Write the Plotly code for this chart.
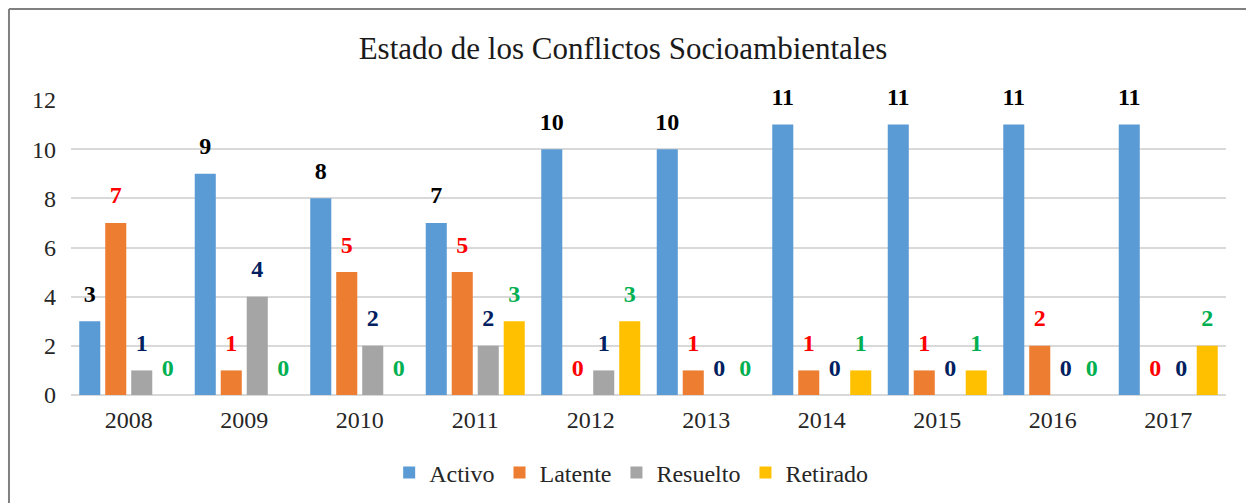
import plotly.graph_objects as go

years = ["2008", "2009", "2010", "2011", "2012", "2013", "2014", "2015", "2016", "2017"]
activo = [3, 9, 8, 7, 10, 10, 11, 11, 11, 11]
latente = [7, 1, 5, 5, 0, 1, 1, 1, 2, 0]
resuelto = [1, 4, 2, 2, 1, 0, 0, 0, 0, 0]
retirado = [0, 0, 0, 3, 3, 0, 1, 1, 0, 2]

series_names = ["Activo", "Latente", "Resuelto", "Retirado"]
series_values = [activo, latente, resuelto, retirado]
bar_colors = ["#5B9BD5", "#ED7D31", "#A5A5A5", "#FFC000"]
label_colors = ["#000000", "#FF0000", "#002060", "#00B050"]

FONT = "Liberation Serif"

fig = go.Figure()
for name, vals, col in zip(series_names, series_values, bar_colors):
    fig.add_bar(x=years, y=vals, name=name, marker=dict(color=col, line=dict(width=0)),
                hoverinfo="skip")

for name, vals, lc in zip(series_names, series_values, label_colors):
    fig.add_scatter(x=years, y=vals, mode="markers+text", text=[str(v) for v in vals],
                    textposition="top center", marker=dict(size=20, opacity=0),
                    textfont=dict(family=FONT, size=24, color=lc, weight="bold"),
                    showlegend=False, hoverinfo="skip", cliponaxis=False)

fig.update_layout(
    width=1246, height=503,
    margin=dict(l=71, r=20, t=100, b=108, autoexpand=False),
    paper_bgcolor="white", plot_bgcolor="white",
    barmode="group", bargap=0.1, bargroupgap=0.19,
    scattermode="group", scattergap=0.1,
    font=dict(family=FONT, size=24, color="#262626"),
    title=dict(text="Estado de los Conflictos Socioambientales", x=0.5, xanchor="center",
               y=0.905, yanchor="middle", font=dict(family=FONT, size=31, color="#1a1a1a")),
    legend=dict(orientation="h", x=0.485, xanchor="center", y=-0.264, yanchor="middle",
                font=dict(family=FONT, size=24, color="#262626"), itemwidth=30,
                traceorder="normal"),
    showlegend=True,
)
fig.update_yaxes(range=[0, 12], dtick=2, showgrid=True, gridcolor="#D9D9D9", gridwidth=1.5,
                 zeroline=True, zerolinecolor="#D9D9D9", zerolinewidth=1.5,
                 ticklabelstandoff=14, tickfont=dict(family=FONT, size=24, color="#262626"),
                 showline=False, automargin=False)
fig.update_xaxes(type="category", showgrid=False, showline=False, ticks="",
                 ticklabelstandoff=8, tickfont=dict(family=FONT, size=24, color="#262626"),
                 automargin=False)

# outer chart border (left and top edges visible in the frame)
fig.add_shape(type="line", xref="paper", yref="paper", x0=-0.0537, x1=-0.0537, y0=-0.5, y1=1.3085,
              line=dict(color="#808080", width=2))
fig.add_shape(type="line", xref="paper", yref="paper", x0=-0.0537, x1=1.2, y0=1.3085, y1=1.3085,
              line=dict(color="#808080", width=2))

fig.write_html("out.html", config={"displayModeBar": False},
               post_script="document.body.style.margin='0';document.body.style.padding='0';")
